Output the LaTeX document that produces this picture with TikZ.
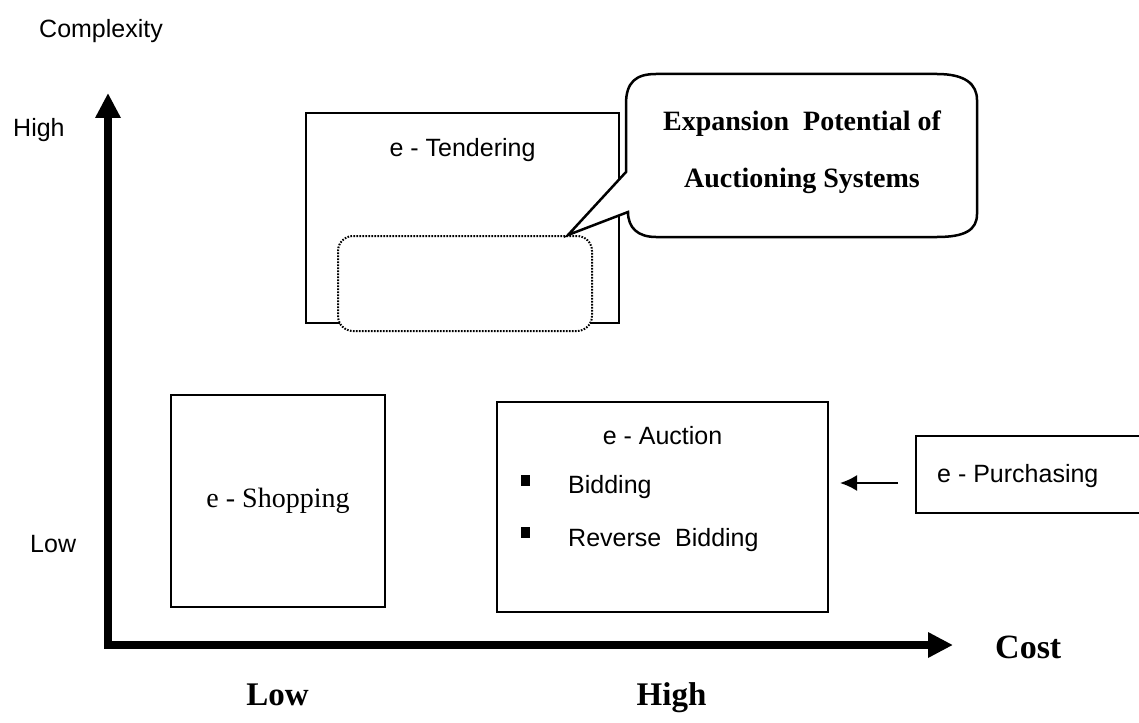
\documentclass[tikz,border=0pt]{standalone}
\usepackage{fontspec}
\setmainfont{Liberation Serif}
\setsansfont{Liberation Sans}
\usetikzlibrary{arrows.meta}
\newcommand{\fs}[1]{\fontsize{#1}{#1}\selectfont}
\tikzset{
  plainbox/.style={draw, line width=2pt, inner sep=0pt, fill=white},
  sanslabel/.style={font=\sffamily\fs{25}, inner sep=0pt, anchor=base},
  seriflabel/.style={font=\rmfamily\bfseries\fs{33}, inner sep=0pt, anchor=base},
  calltext/.style={font=\rmfamily\bfseries\fs{28}, inner sep=0pt, anchor=base},
  bulletsq/.style={fill=black, inner sep=0pt, minimum width=9pt, minimum height=11pt},
  axisline/.style={line width=8pt, line join=miter,
    {Triangle[length=25pt,width=24pt]}-{Triangle[length=25pt,width=24pt]}},
  smallarrow/.style={line width=2pt, -{Latex[length=17pt,width=16pt]}}
}
\begin{document}
\begin{tikzpicture}[x=1pt, y=-1pt]
\useasboundingbox (0,0) rectangle (1139,722);
\clip (0,0) rectangle (1139,722);

% axes
\coordinate (ytop) at (108,93);
\coordinate (orig) at (108,645);
\coordinate (xend) at (953,645);
\draw[axisline] (ytop) -- (orig) -- (xend);

% axis captions
\node[sanslabel, anchor=base west] (cplx) at (39,38) {Complexity};
\node[sanslabel, anchor=base west] (yhigh) at (13,137) {High};
\node[sanslabel, anchor=base west] (ylow) at (30,552) {Low};
\node[seriflabel, anchor=base west, font=\rmfamily\bfseries\fs{34}] (cost) at (995,658) {Cost};
\node[seriflabel] (xlow) at (277.5,705) {Low};
\node[seriflabel] (xhigh) at (671.5,705) {High};

% e-Tendering with the highlighted area
\node[plainbox, minimum width=313pt, minimum height=210pt] (tender) at (462.5,218) {};
\node[sanslabel] (tendert) at (462.5,157) {e - Tendering};
\node[draw, fill=white, line width=2pt, dash pattern=on 1.6pt off 1.4pt,
      rounded corners=15pt, inner sep=0pt,
      minimum width=254pt, minimum height=95pt] (zone) at (465,283.5) {};
\coordinate (tip) at ([xshift=103pt]zone.north);

% speech bubble
\draw[line width=2.5pt, fill=white, line join=miter]
  (626,172) -- (626,104)
  .. controls (626,82) and (636,74) .. (656,74)
  -- (937,74)
  .. controls (965,74) and (977,84) .. (977,100)
  -- (977,214)
  .. controls (977,230) and (965,237) .. (937,237)
  -- (656,237)
  .. controls (638,237) and (628,228) .. (628,212)
  -- (tip) -- cycle;
\node[calltext] (call1) at (802,131) {Expansion~\ Potential of};
\node[calltext] (call2) at (802,187) {Auctioning Systems};

% e-Shopping
\node[plainbox, minimum width=214pt, minimum height=212pt] (shop) at (278,501) {};
\node[font=\rmfamily\fs{28}, inner sep=0pt, anchor=base] (shopt) at (278,507) {e - Shopping};

% e-Auction
\node[plainbox, minimum width=331pt, minimum height=210pt] (auction) at (662.5,507) {};
\node[sanslabel] (auctiont) at (662.5,444) {e - Auction};
\node[bulletsq] (b1) at (525,480) {};
\node[bulletsq] (b2) at (525,532) {};
\node[sanslabel, anchor=base west] (bid1) at (568,493) {Bidding};
\node[sanslabel, anchor=base west] (bid2) at (568,546) {Reverse~\ Bidding};

% e-Purchasing (runs past the right margin)
\node[plainbox, minimum width=260pt, minimum height=77pt] (purch) at (1046,474.5) {};
\node[sanslabel, anchor=base west] (purcht) at (937,482) {e - Purchasing};
\draw[smallarrow] ([shift={(-17,8.5)}]purch.west) -- ([shift={(11,-24)}]auction.east);
\end{tikzpicture}
\end{document}
